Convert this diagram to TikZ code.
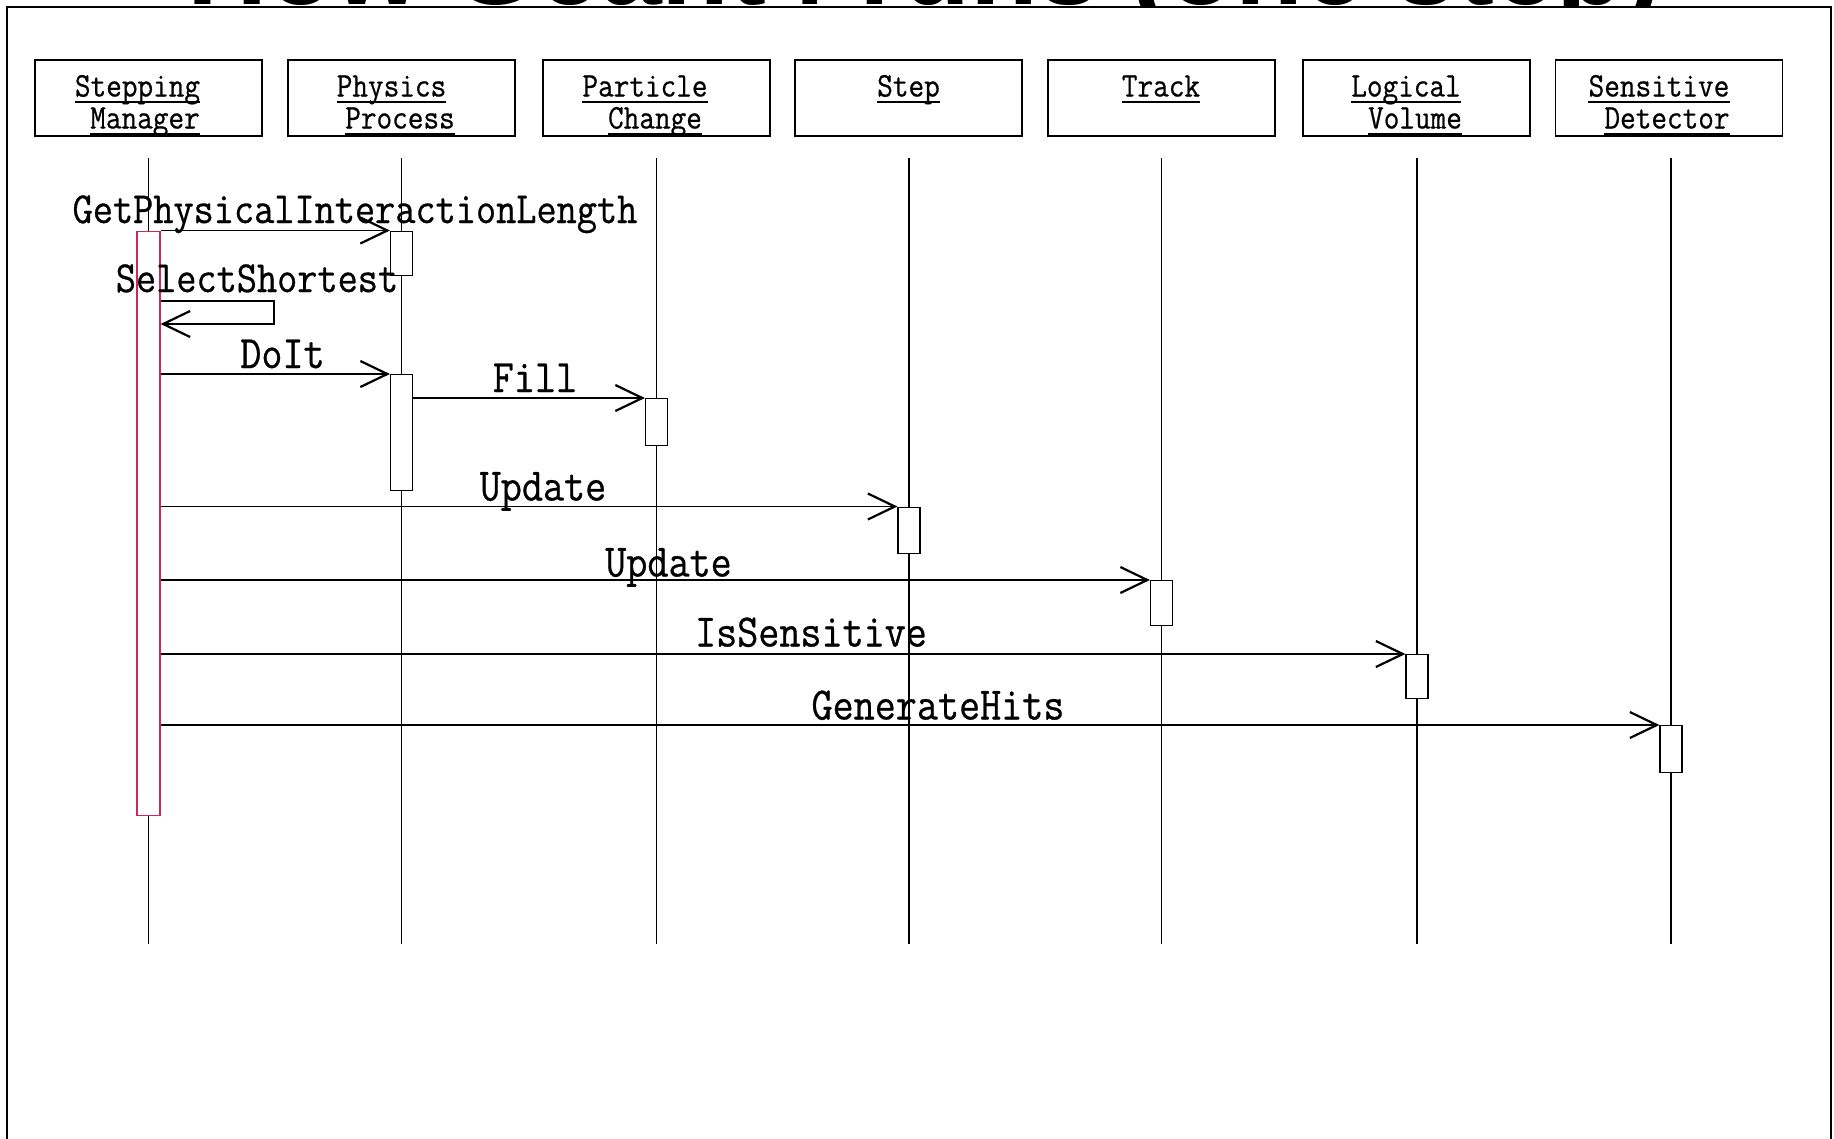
\documentclass[tikz,border=0pt]{standalone}
\usepackage{fontspec}
\setmainfont{Liberation Sans}
\newfontfamily\monoA[FakeStretch=0.88,FakeBold=0.6]{Latin Modern Mono}
\newfontfamily\titlefont{Liberation Sans}
\usetikzlibrary{arrows.meta}
\definecolor{actpink}{RGB}{200,40,90}
\tikzset{
  hdr/.style={draw, line width=1.3pt, minimum width=227pt, minimum height=76pt, inner sep=0pt},
  htxt/.style={anchor=base, inner sep=0pt, font=\monoA\fontsize{34.5}{34.5}\selectfont},
  uline/.style={line width=2pt},
  life/.style={line width=1.2pt},
  act/.style={draw, fill=white, line width=1.2pt, minimum width=22pt, inner sep=0pt, anchor=north},
  msg/.style={line width=1.2pt, -{Straight Barb[length=27pt, width=26pt, line width=2.2pt]}},
  lbl/.style={anchor=base, inner sep=0pt, font=\monoA\fontsize{46.5}{46.5}\selectfont},
  lbls/.style={anchor=base, inner sep=0pt, font=\monoA\fontsize{44.5}{44.5}\selectfont},
}
\begin{document}
\begin{tikzpicture}[x=1pt, y=-1pt]
\useasboundingbox (0,0) rectangle (1834,1138);
% title (cut off by the page top)
\node[anchor=base, inner sep=0pt, font=\titlefont\bfseries\fontsize{111}{111}\selectfont] (title) at (924,4.5) {How Geant4 runs (one step)};
% frame
\draw[line width=1.8pt, fill=white] (7,7) rectangle (1831,1170);

% header boxes
\node[hdr] (b1) at (148.5,98) {};
\node[hdr] (b2) at (401.5,98) {};
\node[hdr] (b3) at (656.5,98) {};
\node[hdr] (b4) at (908.5,98) {};
\node[hdr] (b5) at (1161.5,98) {};
\node[hdr] (b6) at (1416.5,98) {};
\node[hdr] (b7) at (1669,98) {};

% header texts
\node[htxt] (t1a) at (137.5,96.5) {Stepping};
\node[htxt] (t1b) at (145,128.5) {Manager};
\node[htxt] (t2a) at (391.5,96.5) {Physics};
\node[htxt] (t2b) at (400,128.5) {Process};
\node[htxt] (t3a) at (645,96.5) {Particle};
\node[htxt] (t3b) at (655,128.5) {Change};
\node[htxt] (t4a) at (908.5,96.5) {Step};
\node[htxt] (t5a) at (1161,96.5) {Track};
\node[htxt] (t6a) at (1406,96.5) {Logical};
\node[htxt] (t6b) at (1415,128.5) {Volume};
\node[htxt] (t7a) at (1659,96.5) {Sensitive};
\node[htxt] (t7b) at (1667,128.5) {Detector};
\foreach \t in {t1a,t1b,t2a,t2b,t3a,t3b,t4a,t5a,t6a,t6b,t7a,t7b}
  \draw[uline] ([yshift=-5pt]\t.base west) -- ([yshift=-5pt]\t.base east);

% lifelines
\foreach \b/\x in {b1/148.5,b2/401.5,b3/656.5,b4/909,b5/1161.5,b6/1417,b7/1671}{
  \coordinate (\b top) at (\x,158);
  \coordinate (\b bot) at (\x,944);
  \draw[life] (\b top) -- (\b bot);
}

% activations
\node[act, draw=actpink, minimum width=23pt, minimum height=584.5pt] (sm) at (148.5,230.5) {};
\node[act, minimum height=44.5pt] (pp1) at (401.5,230.5) {};
\node[act, minimum height=116pt] (pp2) at (401.5,374) {};
\node[act, minimum height=46.5pt] (pch) at (656.5,398) {};
\node[act, minimum height=46.5pt] (st) at (909,506.5) {};
\node[act, minimum height=44.5pt] (tr) at (1161.5,580) {};
\node[act, minimum height=44pt] (lv) at (1417,654) {};
\node[act, minimum height=46.5pt] (sd) at (1671,725) {};

% messages
\draw[msg] (pp1.north west -| sm.east) -- (pp1.north west);
\coordinate (ss1) at (274,301);
\coordinate (ss2) at (274,324);
\draw[msg] (ss1 -| sm.east) -- (ss1) -- (ss2) -- (ss2 -| sm.east);
\draw[msg] (pp2.north west -| sm.east) -- (pp2.north west);
\draw[msg] (pch.north west -| pp2.east) -- (pch.north west);
\draw[msg] (st.north west -| sm.east) -- (st.north west);
\draw[msg] (tr.north west -| sm.east) -- (tr.north west);
\draw[msg] (lv.north west -| sm.east) -- (lv.north west);
\draw[msg] (sd.north west -| sm.east) -- (sd.north west);

% labels
\node[lbls] (l1) at (355,223) {GetPhysicalInteractionLength};
\node[lbls] (l2) at (257,292) {SelectShortest};
\node[lbl] (l3) at (282.5,368) {DoIt};
\node[lbl] (l4) at (535,392) {Fill};
\node[lbl] (l5) at (543,500.5) {Update};
\node[lbl] (l6) at (668.5,576.5) {Update};
\node[lbl] (l7) at (811,646.5) {IsSensitive};
\node[lbl] (l8) at (938,719.5) {GenerateHits};
\end{tikzpicture}
\end{document}
